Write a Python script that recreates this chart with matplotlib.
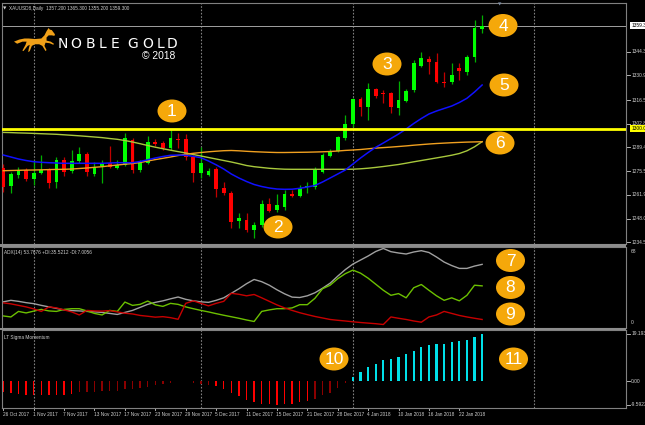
import matplotlib
matplotlib.use('Agg')
import matplotlib.pyplot as plt
import matplotlib.transforms as mtransforms
from matplotlib.patches import Ellipse, Polygon, Rectangle
import numpy as np

# ---- data (XAUUSD daily, 26 Oct 2017 .. 25 Jan 2018) ----
opens = [1277.52, 1267.14, 1273.14, 1276.19, 1270.83, 1274.64, 1276.19, 1269.45, 1281.96, 1275.62,
         1281.38, 1285.42, 1273.89, 1278.50, 1280.40, 1277.52, 1279.08, 1293.49, 1276.19, 1280.40,
         1292.51, 1291.59, 1289.05, 1293.89, 1293.89, 1283.86, 1274.29, 1273.49, 1276.60, 1265.65,
         1262.76, 1246.97, 1247.37, 1241.60, 1244.49, 1256.42, 1253.13, 1255.04, 1262.19, 1261.38,
         1266.22, 1266.22, 1275.22, 1284.55, 1287.32, 1294.47, 1302.71, 1317.13, 1312.69, 1322.72,
         1320.76, 1320.41, 1311.77, 1316.26, 1322.31, 1336.32, 1340.07, 1338.28, 1327.10, 1326.75,
         1335.00, 1332.86, 1341.51, 1357.20]
highs = [1279.65, 1275.04, 1277.92, 1277.52, 1281.96, 1284.84, 1277.35, 1283.69, 1283.69, 1287.72,
         1289.45, 1286.57, 1280.81, 1281.96, 1290.03, 1281.96, 1297.35, 1294.64, 1281.96, 1295.80,
         1294.07, 1292.91, 1299.25, 1297.35, 1296.95, 1284.84, 1289.63, 1277.35, 1277.92, 1269.45,
         1264.09, 1251.23, 1251.23, 1246.39, 1258.90, 1259.88, 1262.36, 1264.66, 1264.66, 1267.55,
         1269.45, 1277.92, 1286.00, 1288.47, 1295.80, 1307.90, 1317.53, 1318.45, 1326.18, 1323.29,
         1322.31, 1321.16, 1327.50, 1323.18, 1339.61, 1344.39, 1342.20, 1343.65, 1332.86, 1337.71,
         1337.71, 1342.49, 1362.67, 1365.30]
lows = [1263.51, 1262.76, 1271.58, 1269.85, 1267.55, 1273.89, 1265.82, 1265.82, 1272.74, 1274.47,
        1280.23, 1272.74, 1272.74, 1268.87, 1277.35, 1276.77, 1278.50, 1274.47, 1275.04, 1279.65,
        1290.03, 1287.72, 1287.72, 1288.71, 1281.96, 1269.45, 1271.41, 1272.74, 1260.80, 1261.78,
        1242.59, 1242.59, 1240.45, 1236.82, 1243.33, 1251.98, 1251.98, 1253.13, 1260.63, 1260.63,
        1262.94, 1265.24, 1274.47, 1283.69, 1286.57, 1293.49, 1301.16, 1307.33, 1305.02, 1317.70,
        1314.65, 1308.88, 1307.90, 1315.40, 1321.33, 1335.86, 1331.42, 1326.18, 1323.76, 1325.77,
        1328.08, 1330.96, 1338.63, 1355.20]
closes = [1266.22, 1273.89, 1276.19, 1270.83, 1274.64, 1276.19, 1268.87, 1281.96, 1275.04, 1281.38,
          1285.25, 1275.22, 1278.10, 1280.40, 1277.75, 1279.08, 1294.47, 1276.19, 1280.40, 1292.16,
          1291.01, 1288.71, 1294.82, 1293.49, 1283.52, 1274.29, 1280.40, 1275.79, 1265.07, 1262.76,
          1246.39, 1248.35, 1241.60, 1244.49, 1256.42, 1252.73, 1256.02, 1262.36, 1261.38, 1265.65,
          1266.97, 1276.60, 1284.84, 1287.44, 1295.05, 1302.71, 1317.13, 1312.69, 1322.72, 1318.86,
          1319.84, 1312.34, 1316.55, 1321.91, 1337.71, 1340.76, 1338.17, 1326.75, 1326.47, 1330.96,
          1333.27, 1341.51, 1358.23, 1359.30]

ma_fast = [1284.84, 1283.69, 1282.54, 1281.67, 1280.98, 1280.63, 1280.40, 1280.23, 1280.06, 1280.06,
           1280.06, 1280.06, 1280.06, 1280.06, 1280.23, 1280.40, 1280.40, 1280.40, 1281.10, 1282.08,
           1283.11, 1283.98, 1284.67, 1284.84, 1284.67, 1284.09, 1283.29, 1281.38, 1279.19, 1276.77,
           1273.89, 1271.58, 1269.57, 1267.84, 1266.68, 1265.82, 1265.24, 1265.07, 1265.13, 1265.65,
           1266.39, 1267.26, 1269.28, 1271.58, 1273.89, 1276.19, 1279.65, 1283.11, 1286.28, 1289.28,
           1291.76, 1294.35, 1296.95, 1299.83, 1303.00, 1305.88, 1308.48, 1310.21, 1311.65, 1313.09,
           1315.11, 1317.53, 1321.16, 1325.20]
ma_mid = [1275.79, 1275.91, 1276.02, 1276.14, 1276.19, 1276.31, 1276.43, 1276.54, 1276.60, 1276.77,
          1277.06, 1277.35, 1277.75, 1278.10, 1278.62, 1279.08, 1279.54, 1279.94, 1280.52, 1281.38,
          1282.19, 1282.94, 1283.69, 1284.55, 1285.25, 1285.82, 1286.28, 1286.69, 1287.03, 1287.32,
          1287.44, 1287.26, 1286.98, 1286.75, 1286.57, 1286.40, 1286.28, 1286.28, 1286.34, 1286.40,
          1286.46, 1286.57, 1286.69, 1286.86, 1287.15, 1287.49, 1287.72, 1288.01, 1288.42, 1288.82,
          1289.11, 1289.40, 1289.74, 1290.09, 1290.49, 1290.84, 1291.18, 1291.47, 1291.70, 1291.93,
          1292.11, 1292.28, 1292.39, 1292.51]
ma_slow = [1297.87, 1297.76, 1297.58, 1297.47, 1297.30, 1297.12, 1296.95, 1296.78, 1296.49, 1296.20,
           1295.91, 1295.57, 1295.22, 1294.87, 1294.35, 1293.89, 1293.20, 1292.34, 1291.36, 1290.32,
           1289.34, 1288.47, 1287.61, 1286.80, 1286.00, 1285.13, 1284.27, 1283.40, 1282.54, 1281.67,
           1280.81, 1279.83, 1278.79, 1278.10, 1277.64, 1277.18, 1276.89, 1276.66, 1276.60, 1276.60,
           1276.60, 1276.60, 1276.60, 1276.60, 1276.60, 1276.60, 1276.66, 1276.89, 1277.23, 1277.69,
           1278.21, 1278.79, 1279.37, 1280.12, 1280.92, 1281.67, 1282.42, 1283.17, 1283.92, 1284.73,
           1285.71, 1287.26, 1289.57, 1292.51]

adx = [21.97, 23.25, 22.39, 21.28, 20.43, 18.97, 17.69, 16.41, 15.13, 14.53,
       14.27, 13.85, 13.50, 12.99, 12.14, 11.28, 12.99, 14.70, 17.26, 19.83,
       21.54, 22.82, 24.53, 26.07, 24.10, 22.82, 21.97, 21.54, 23.25, 25.38,
       29.23, 33.08, 37.35, 40.94, 39.06, 36.07, 32.22, 28.80, 25.98, 25.64,
       27.09, 29.66, 33.50, 37.78, 43.76, 49.32, 54.02, 57.44, 60.85, 64.70,
       67.26, 64.53, 63.42, 62.56, 64.27, 65.38, 63.85, 60.00, 55.73, 52.74,
       50.34, 50.34, 52.31, 53.77]
plus_di = [10.00, 9.15, 13.85, 12.56, 14.10, 15.56, 14.27, 13.85, 15.56, 16.15,
           16.15, 14.27, 12.14, 10.85, 14.70, 13.85, 21.79, 18.97, 19.83, 22.65,
           19.40, 18.12, 20.68, 19.83, 17.69, 16.15, 14.70, 13.42, 11.97, 10.60,
           9.32, 8.03, 6.58, 5.30, 13.85, 15.13, 16.15, 16.15, 16.84, 19.57,
           19.57, 24.96, 33.08, 36.07, 41.62, 45.90, 48.89, 46.32, 42.05, 36.92,
           31.79, 27.52, 28.97, 25.38, 33.93, 36.67, 31.79, 27.09, 23.25, 25.38,
           22.82, 27.52, 36.07, 35.52]
minus_di = [21.11, 20.26, 18.97, 17.69, 15.98, 13.85, 17.69, 16.84, 15.13, 13.42,
            10.85, 14.70, 14.27, 14.10, 14.53, 13.42, 12.31, 11.71, 10.43, 9.74,
            8.97, 9.40, 8.55, 7.18, 20.68, 22.82, 20.68, 18.55, 20.68, 22.39,
            29.23, 28.38, 27.09, 28.21, 25.38, 22.39, 19.40, 16.84, 14.70, 12.74,
            11.11, 9.57, 8.29, 7.01, 6.32, 5.73, 5.04, 4.44, 3.93, 3.42,
            2.74, 9.15, 8.03, 7.01, 5.73, 4.70, 9.15, 10.85, 13.85, 12.14,
            10.43, 9.15, 8.03, 7.01]

sigma = [-4.38, -4.80, -5.07, -5.48, -5.48, -5.48, -5.75, -5.48, -5.48, -5.21,
         -4.52, -4.52, -4.38, -4.11, -4.11, -3.84, -3.15, -3.01, -2.74, -2.19,
         -1.64, -1.10, -0.55, 0.20, 0.20, -0.68, -0.96, -1.37, -2.05, -3.15,
         -4.80, -6.16, -7.53, -8.49, -9.18, -9.32, -9.5923, -9.32, -9.18, -8.63,
         -8.22, -7.12, -5.75, -4.80, -2.90, -0.80, 1.85, 3.57, 5.56, 6.88,
         8.47, 9.13, 9.93, 10.85, 12.44, 13.76, 14.82, 15.22, 15.22, 15.88,
         16.15, 16.81, 18.13, 19.1933]
# 1 = strong colour buffer of the histogram, 0 = weak colour buffer
sigma_strong = [1] * 10 + [0] * 18 + [1] * 13 + [0] * 5 + [1] * 18

date_labels = ['26 Oct 2017', '1 Nov 2017', '7 Nov 2017', '13 Nov 2017', '17 Nov 2017',
               '23 Nov 2017', '29 Nov 2017', '5 Dec 2017', '11 Dec 2017', '15 Dec 2017',
               '21 Dec 2017', '28 Dec 2017', '4 Jan 2018', '10 Jan 2018', '16 Jan 2018',
               '22 Jan 2018']
date_step = 4
separators = [4, 26, 46, 69.8]   # period separator bars

price_ticks = [1344.39, 1330.96, 1316.52, 1302.88, 1289.45, 1275.51, 1261.98, 1248.04, 1234.51]
level = 1300.0
bid = 1359.3

W, H = 645, 425
GRID = '#808080'
TXT = '#d0d0d0'
SMALL = 'Liberation Sans'
FS = 3.5

fig = plt.figure(figsize=(6.45, 4.25), dpi=100, facecolor='black')


def box(l, t, r, b):
    return [l / W, 1 - b / H, (r - l) / W, (b - t) / H]


ax = fig.add_axes(box(2, 3, 626, 244))
ax_adx = fig.add_axes(box(2, 247, 626, 327.5))
ax_sig = fig.add_axes(box(2, 329.5, 626, 407.5))

n = len(closes)
x = np.arange(n)
for a in (ax, ax_adx, ax_sig):
    a.set_facecolor('black')
    a.set_xlim(-0.17, 81.93)
    a.set_xticks([])
    a.set_yticks([])
    for s in a.spines.values():
        s.set_color(GRID)
        s.set_linewidth(0.8)
    for sx in separators:
        a.axvline(sx, color=GRID, lw=0.8, ls=(0, (1.5, 1.5)), zorder=1)

# ---- main price panel ----
ax.set_ylim(1233.54, 1372.47)
o = np.array(opens); c = np.array(closes)
up = c >= o
ax.vlines(x, lows, highs, colors=['#00b000' if u else '#c00000' for u in up], lw=0.9, zorder=3)
ax.bar(x, np.maximum(np.abs(c - o), 0.6), bottom=np.minimum(o, c), width=0.48,
       color=['#00ff00' if u else '#ff0000' for u in up], linewidth=0, zorder=4)
ax.plot(x, ma_slow, color='#a8c83c', lw=1.0, zorder=5)
ax.plot(x, ma_mid, color='#f0a020', lw=1.0, zorder=5)
ax.plot(x, ma_fast, color='#1010ff', lw=1.1, zorder=5)
ax.axhline(level, color='#ffff00', lw=2.0, zorder=6)
ax.axhline(bid, color='#a0a0a0', lw=0.7, zorder=2)

bt = mtransforms.blended_transform_factory(ax.transAxes, ax.transData)
dx = 4 / 624
for p in price_ticks:
    ax.plot([1, 1 + dx], [p, p], color=TXT, lw=0.6, transform=bt, clip_on=False)
    ax.text(1 + 1.3 * dx, p, f'{p:.3f}', transform=bt, color=TXT, fontsize=FS,
            family=SMALL, va='center', ha='left', clip_on=False)
ax.text(1 + 1.3 * dx, bid, f'{bid:.3f}', transform=bt, color='black', fontsize=FS,
        family=SMALL, va='center', ha='left', clip_on=False,
        bbox=dict(boxstyle='square,pad=0.2', fc='white', ec='none'))
ax.text(1 + 1.3 * dx, level, f'{level:.3f}', transform=bt, color='black', fontsize=FS,
        family=SMALL, va='center', ha='left', clip_on=False,
        bbox=dict(boxstyle='square,pad=0.2', fc='#ffff00', ec='none'))

# ---- ADX panel ----
ax_adx.set_ylim(0.2, 68.5)
ax_adx.plot(x, adx, color='#a0a0a0', lw=1.0)
ax_adx.plot(x, plus_di, color='#6cc000', lw=1.0)
ax_adx.plot(x, minus_di, color='#c80000', lw=1.0)
bt2 = ax_adx.transAxes
ax_adx.text(1 + 1.3 * dx, 0.97, '68', transform=bt2, color=TXT, fontsize=FS,
            family=SMALL, va='top', clip_on=False)
ax_adx.text(1 + 1.3 * dx, 0.03, '0', transform=bt2, color=TXT, fontsize=FS,
            family=SMALL, va='bottom', clip_on=False)
ax_adx.text(0.004, 0.93, 'ADX(14) 53.7676 +DI:35.5212 -DI:7.0056', transform=ax_adx.transAxes,
            color=TXT, fontsize=3.4, family=SMALL, va='center')

# ---- LT Sigma Momentum panel ----
ax_sig.set_ylim(-10.7, 21.0)
sg = np.array(sigma)
cols = []
for v, st in zip(sg, sigma_strong):
    if v >= 0:
        cols.append('#00e0e8' if st else '#008b8b')
    else:
        cols.append('#ff0000' if st else '#8b0000')
widths = [0.27 if v >= 0 else 0.2 for v in sg]
ax_sig.bar(x, sg, width=widths, color=cols, linewidth=0)
bt3 = mtransforms.blended_transform_factory(ax_sig.transAxes, ax_sig.transData)
for v, lab in [(19.1933, '19.1933'), (0.0, '0.00'), (-9.5923, '-9.5923')]:
    ax_sig.plot([1, 1 + dx], [v, v], color=TXT, lw=0.6, transform=bt3, clip_on=False)
    ax_sig.text(1 + 1.3 * dx, v, lab, transform=bt3, color=TXT, fontsize=FS,
                family=SMALL, va='center', clip_on=False)
ax_sig.text(0.004, 0.9, 'LT Sigma Momentum', transform=ax_sig.transAxes,
            color=TXT, fontsize=3.4, family=SMALL, va='center')

# date axis
bt4 = mtransforms.blended_transform_factory(ax_sig.transData, ax_sig.transAxes)
for k, lab in enumerate(date_labels):
    xi = k * date_step
    ax_sig.plot([xi, xi], [0, -0.035], color=TXT, lw=0.6, transform=bt4, clip_on=False)
    ax_sig.text(xi - 0.1, -0.095, lab, transform=bt4, color=TXT, fontsize=3.4,
                family=SMALL, va='center', ha='left', clip_on=False)

# ---- overlay in pixel coordinates: separators, title, logo, callouts ----
ov = fig.add_axes([0, 0, 1, 1], zorder=10)
ov.set_xlim(0, W)
ov.set_ylim(H, 0)
ov.axis('off')
ov.patch.set_alpha(0)
ov.add_patch(Rectangle((0, 244), 626, 3, fc='#8c8c8c', ec='none'))
ov.add_patch(Rectangle((0, 327.5), 626, 2.2, fc='#8c8c8c', ec='none'))

ov.text(3, 8, '\u25bc', color=TXT, fontsize=3.2, va='center', ha='left')
ov.text(9, 8, 'XAUUSD8,Daily  1357.200 1365.300 1355.200 1359.300', color=TXT,
        fontsize=3.4, family=SMALL, va='center', ha='left')
ov.text(500, 4.5, '\u25bc', color='#8090a8', fontsize=3.2, va='center', ha='center')

# logo
horse = np.array([(0, 13), (5, 11), (10, 10), (14, 10), (20, 10.5), (26, 10), (29, 7), (31, 3),
                  (33, 0), (34, 1.5), (36, 2), (39, 6), (38.5, 7.5), (36, 7), (33, 7), (31, 9),
                  (31, 12), (35, 13), (38, 15), (37.5, 16), (34, 14.5), (30, 14), (29, 17),
                  (31, 21), (30, 22), (27, 17), (24, 15.5), (20, 15.5), (17, 17), (15, 22),
                  (13.5, 23), (14, 20), (15, 16), (13, 17), (9, 22), (8, 21.5), (11, 16),
                  (12, 13), (8, 13), (3, 15)])
ov.add_patch(Polygon(horse * 1.05 + np.array([14, 28]), closed=True, fc='#f0a018', ec='none'))
for ch, cx in zip('NOBLEGOLD', [63, 76, 90, 102, 115, 133, 148, 161, 172]):
    ov.text(cx, 43.5, ch, color='white', fontsize=10, family='DejaVu Sans',
            ha='center', va='center')
ov.text(175, 55.5, '\u00a9 2018', color='white', fontsize=7.4, family='Liberation Sans',
        ha='right', va='center')

callouts = [('1', 172, 111), ('2', 278, 227), ('3', 387, 64), ('4', 503, 25.5),
            ('5', 504, 85), ('6', 500, 143), ('7', 510.5, 260.5), ('8', 510.5, 287.5),
            ('9', 510.5, 314), ('10', 334, 359), ('11', 513.5, 359)]
for lab, cx, cy in callouts:
    ov.add_patch(Ellipse((cx, cy), 29, 23, fc='#f5a80a', ec='none'))
    ov.text(cx, cy + 0.5, lab, color='white', fontsize=12.5, family='Liberation Sans',
            ha='center', va='center')

fig.savefig('out.png', dpi=100, facecolor='black')
